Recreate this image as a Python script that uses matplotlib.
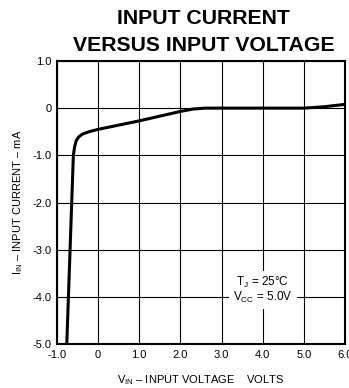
import matplotlib
matplotlib.use("Agg")
import matplotlib.pyplot as plt

plt.rcParams["font.family"] = ["Liberation Sans", "DejaVu Sans"]
plt.rcParams["mathtext.fontset"] = "custom"
plt.rcParams["mathtext.rm"] = "Liberation Sans"

# Input current vs input voltage, Tj = 25C, Vcc = 5.0 V
v_in = [-0.76, -0.72, -0.68, -0.64, -0.60, -0.57, -0.53, -0.47, -0.38, -0.22,
        0.0, 0.5, 1.0, 1.5, 2.0, 2.3, 2.6, 3.0, 4.0, 5.0, 5.5, 6.0]
i_in = [-5.0, -4.0, -3.0, -2.0, -1.0, -0.82, -0.69, -0.61, -0.55, -0.50,
        -0.45, -0.36, -0.27, -0.17, -0.07, -0.02, 0.0, 0.0, 0.0, 0.0, 0.03, 0.08]

x_ticks = [-1, 0, 1, 2, 3, 4, 5, 6]
x_labels = ["-1.0", "0", "1.0", "2.0", "3.0", "4.0", "5.0", "6.0"]
y_ticks = [1, 0, -1, -2, -3, -4, -5]
y_labels = ["1.0", "0", "-1.0", "-2.0", "-3.0", "-4.0", "-5.0"]

fig = plt.figure(figsize=(3.49, 3.88), dpi=100)
ax = fig.add_axes([0.163, 0.113, 0.826, 0.730])

ax.plot(v_in, i_in, color="black", linewidth=2.2, solid_capstyle="butt", zorder=3)

ax.set_xlim(-1, 6)
ax.set_ylim(-5, 1)
ax.set_xticks(x_ticks)
ax.set_xticklabels(x_labels)
ax.set_yticks(y_ticks)
ax.set_yticklabels(y_labels)
ax.tick_params(length=0, labelsize=8, pad=4)
ax.grid(True, color="black", linewidth=0.8)
for side in ax.spines.values():
    side.set_linewidth(1.5)

ax.set_xlabel(r"$\mathregular{V_{IN}}$ – INPUT VOLTAGE    VOLTS", fontsize=8, labelpad=10)
ax.set_ylabel(r"$\mathregular{I_{IN}}$ – INPUT CURRENT – mA", fontsize=8, labelpad=5)

ax.text(4.0, -3.85, r"$\mathregular{T_J}$ = 25°C" + "\n" + r"$\mathregular{V_{CC}}$ = 5.0V",
        fontsize=8.5, ha="center", va="center", linespacing=1.0,
        bbox=dict(facecolor="white", edgecolor="none", pad=3), zorder=4)

fig.text(0.582, 0.953, "INPUT CURRENT", fontsize=15.3, fontweight="bold", ha="center", va="center")
fig.text(0.585, 0.884, "VERSUS INPUT VOLTAGE", fontsize=15.3, fontweight="bold", ha="center", va="center")

fig.savefig("out.png", dpi=100)
